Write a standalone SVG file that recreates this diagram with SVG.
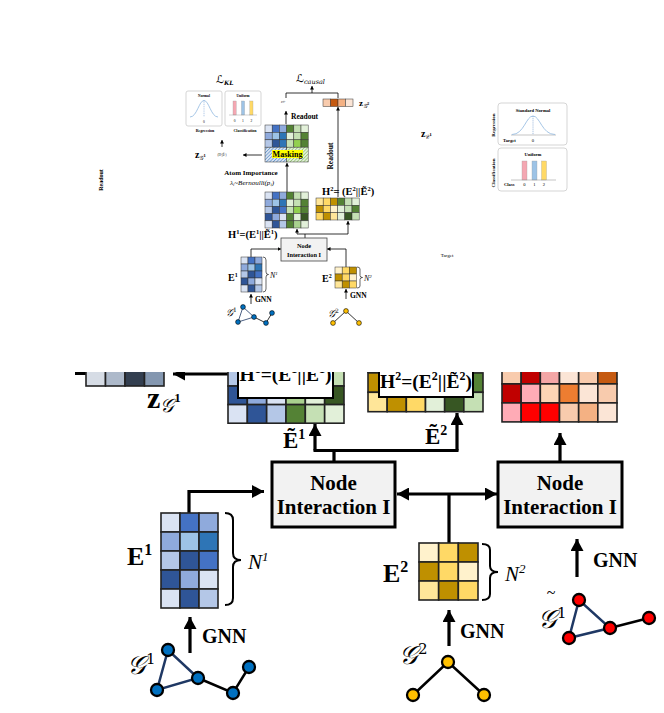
<svg xmlns="http://www.w3.org/2000/svg" width="664" height="713" viewBox="0 0 664 713">
<style>
text{font-family:"Liberation Serif","DejaVu Serif",serif;fill:#000}
.b{font-weight:bold}
.i{font-style:italic}
.sc{font-family:"DejaVu Serif","DejaVu Sans","Noto Sans",serif;font-style:italic}
.c{text-anchor:middle}
.sm rect{stroke:#333;stroke-width:0.5}
.bg rect{stroke:#222;stroke-width:1.6}
.sl{stroke:#000;stroke-width:0.8;fill:none}
.bl{stroke:#000;stroke-width:3.2;fill:none}
.nb{fill:#0070c0;stroke:#000}
.ny{fill:#ffc000;stroke:#000}
.nr{fill:#ff0000;stroke:#000}
.dist{fill:#fff;stroke:#d0d0d0;stroke-width:0.9}
</style>
<defs>
<marker id="sa" markerUnits="userSpaceOnUse" markerWidth="4" markerHeight="4" refX="3.5" refY="2" orient="auto"><path d="M0,0 L3.5,2 L0,4 z" fill="#000"/></marker>
<marker id="ba" markerUnits="userSpaceOnUse" markerWidth="13" markerHeight="13" refX="12" refY="6.5" orient="auto-start-reverse"><path d="M0,0 L12,6.5 L0,13 z" fill="#000"/></marker>
<pattern id="hb" width="2.4" height="2.4" patternUnits="userSpaceOnUse" patternTransform="rotate(45)"><rect width="2.4" height="2.4" fill="#dae3f3"/><line x1="0" y1="0" x2="0" y2="2.4" stroke="#2e75b6" stroke-width="1"/></pattern>
<pattern id="hg" width="2.4" height="2.4" patternUnits="userSpaceOnUse" patternTransform="rotate(45)"><rect width="2.4" height="2.4" fill="#e2f0d9"/><line x1="0" y1="0" x2="0" y2="2.4" stroke="#70ad47" stroke-width="1"/></pattern>
<clipPath id="cut"><rect x="0" y="372" width="664" height="341"/></clipPath>
</defs>
<rect width="664" height="713" fill="#fff"/>

<!-- ============ SMALL DIAGRAM ============ -->
<g id="small-connectors">
<path class="sl" d="M286,98 V93 H338 V98"/>
<path class="sl" d="M312,93 V86" marker-end="url(#sa)"/>
<path class="sl" d="M286,124 V111" marker-end="url(#sa)"/>
<path class="sl" d="M338,197 V107" marker-end="url(#sa)"/>
<path class="sl" d="M222,147 V140" marker-end="url(#sa)"/>
<path class="sl" d="M262,155 H243" marker-end="url(#sa)"/>
<path class="sl" d="M287,192 V163" marker-end="url(#sa)"/>
<path class="sl" d="M305,238 V234 M297,234 H348"/>
<path class="sl" d="M297,234 V229" marker-end="url(#sa)"/>
<path class="sl" d="M348,234 V221" marker-end="url(#sa)"/>
<path class="sl" d="M251,257 V249 H281" marker-end="url(#sa)"/>
<path class="sl" d="M346,267 V249 H327" marker-end="url(#sa)"/>
<path class="sl" d="M251,304 V294" marker-end="url(#sa)"/>
<path class="sl" d="M346,299 V289" marker-end="url(#sa)"/>
</g>

<g id="loss-kl"><text x="216" y="83" class="sc" font-size="11">ℒ<tspan font-size="6" dy="1.5" font-weight="bold">KL</tspan></text></g>
<g id="loss-causal"><text x="296" y="82" class="sc" font-size="11">ℒ<tspan font-size="6.5" dy="1.5">causal</tspan></text></g>

<g id="prior-small-normal">
<rect class="dist" x="186" y="91" width="36" height="35" rx="2"/>
<text x="204" y="97" class="b c" font-size="3.6">Normal</text>
<path d="M190,117 C197,117 199,100.5 204,100.5 C209,100.5 211,117 218,117" fill="none" stroke="#8fb8e0" stroke-width="0.8"/>
<line x1="204" y1="100.5" x2="204" y2="117" stroke="#5b8fd0" stroke-width="0.5" stroke-dasharray="1,0.8"/>
<text x="204" y="122.5" class="c" font-size="3.6">0</text>
<text x="205" y="132" class="b c" font-size="4">Regression</text>
</g>
<g id="prior-small-uniform">
<rect class="dist" x="225" y="91" width="36" height="35" rx="2"/>
<text x="243" y="97" class="b c" font-size="3.6">Uniform</text>
<rect x="233" y="101" width="3.2" height="14" fill="#f4a7b2" stroke="#999" stroke-width="0.3"/>
<rect x="241.4" y="101" width="3.2" height="14" fill="#9dc3e6" stroke="#999" stroke-width="0.3"/>
<rect x="249.8" y="101" width="3.2" height="14" fill="#ffd966" stroke="#999" stroke-width="0.3"/>
<line x1="229" y1="115" x2="257" y2="115" stroke="#888" stroke-width="0.4"/>
<text x="234.6" y="121.5" class="c" font-size="3.6">0</text>
<text x="243" y="121.5" class="c" font-size="3.6">1</text>
<text x="251.4" y="121.5" class="c" font-size="3.6">2</text>
<text x="245" y="132" class="b c" font-size="4">Classification</text>
</g>

<g id="zs1-small"><text x="195" y="158" class="b" font-size="10">z<tspan class="sc" font-size="6" dy="1.5" font-weight="normal">𝒢</tspan><tspan font-size="4.5" dy="-3">1</tspan></text>
<text x="222" y="156" class="c" font-size="3">(H¹||Ẽ¹)</text></g>

<g id="zg1-tiny"><text x="283" y="103" class="c i" font-size="3.2">z𝒢¹</text>
<text x="291" y="119" class="b" font-size="7.5">Readout</text></g>

<g id="zg2-small">
<g class="sm"><rect x="323" y="99" width="7.5" height="7.5" fill="#f8cbad"/><rect x="330.5" y="99" width="7.5" height="7.5" fill="#c55a11"/><rect x="338" y="99" width="7.5" height="7.5" fill="#f4b183"/><rect x="345.5" y="99" width="7.5" height="7.5" fill="#fbe5d6"/></g>
<text x="359" y="106" class="b" font-size="9">z<tspan class="sc" font-size="6" dy="1.5" font-weight="normal">𝒢</tspan><tspan font-size="4.5" dy="-3">2</tspan></text>
<text transform="translate(333,156) rotate(-90)" class="b c" font-size="7.5">Readout</text>
</g>

<g id="masked-matrix">
<g class="sm">
<rect x="265" y="125" width="7.2" height="7.4" fill="#dae3f3"/><rect x="272.2" y="125" width="7.2" height="7.4" fill="#4472c4"/><rect x="279.4" y="125" width="7.2" height="7.4" fill="#8faadc"/><rect x="286.6" y="125" width="7.2" height="7.4" fill="#548235"/><rect x="293.8" y="125" width="7.2" height="7.4" fill="#c5e0b4"/><rect x="301" y="125" width="7.2" height="7.4" fill="#e2f0d9"/>
<rect x="265" y="132.4" width="7.2" height="7.4" fill="#8faadc"/><rect x="272.2" y="132.4" width="7.2" height="7.4" fill="#9dc3e6"/><rect x="279.4" y="132.4" width="7.2" height="7.4" fill="#2e75b6"/><rect x="286.6" y="132.4" width="7.2" height="7.4" fill="#e2f0d9"/><rect x="293.8" y="132.4" width="7.2" height="7.4" fill="#c5e0b4"/><rect x="301" y="132.4" width="7.2" height="7.4" fill="#548235"/>
<rect x="265" y="139.8" width="7.2" height="7.4" fill="#b4c7e7"/><rect x="272.2" y="139.8" width="7.2" height="7.4" fill="#2f5597"/><rect x="279.4" y="139.8" width="7.2" height="7.4" fill="#2e75b6"/><rect x="286.6" y="139.8" width="7.2" height="7.4" fill="#c5e0b4"/><rect x="293.8" y="139.8" width="7.2" height="7.4" fill="#92d050"/><rect x="301" y="139.8" width="7.2" height="7.4" fill="#548235"/>
<rect x="265" y="147.2" width="21.6" height="14.8" fill="url(#hb)"/><rect x="286.6" y="147.2" width="21.6" height="14.8" fill="url(#hg)"/>
</g>
<rect x="272" y="150" width="31" height="8" fill="#ffff00"/>
<text x="287.5" y="157" class="b c" font-size="8">Masking</text>
</g>

<g id="atom-importance">
<text x="251" y="175" class="b c" font-size="7">Atom Importance</text>
<text x="252" y="184.5" class="i c" font-size="7">λ<tspan font-size="4.5" dy="1">i</tspan><tspan dy="-1">~Bernoulli(p</tspan><tspan font-size="4.5" dy="1">i</tspan><tspan dy="-1">)</tspan></text>
</g>

<g id="h1-small">
<g class="sm">
<rect x="265" y="192" width="7.2" height="7.2" fill="#dae3f3"/><rect x="272.2" y="192" width="7.2" height="7.2" fill="#4472c4"/><rect x="279.4" y="192" width="7.2" height="7.2" fill="#8faadc"/><rect x="286.6" y="192" width="7.2" height="7.2" fill="#548235"/><rect x="293.8" y="192" width="7.2" height="7.2" fill="#c5e0b4"/><rect x="301" y="192" width="7.2" height="7.2" fill="#e2f0d9"/>
<rect x="265" y="199.2" width="7.2" height="7.2" fill="#8faadc"/><rect x="272.2" y="199.2" width="7.2" height="7.2" fill="#9dc3e6"/><rect x="279.4" y="199.2" width="7.2" height="7.2" fill="#2e75b6"/><rect x="286.6" y="199.2" width="7.2" height="7.2" fill="#e2f0d9"/><rect x="293.8" y="199.2" width="7.2" height="7.2" fill="#c5e0b4"/><rect x="301" y="199.2" width="7.2" height="7.2" fill="#548235"/>
<rect x="265" y="206.4" width="7.2" height="7.2" fill="#b4c7e7"/><rect x="272.2" y="206.4" width="7.2" height="7.2" fill="#2f5597"/><rect x="279.4" y="206.4" width="7.2" height="7.2" fill="#4472c4"/><rect x="286.6" y="206.4" width="7.2" height="7.2" fill="#c5e0b4"/><rect x="293.8" y="206.4" width="7.2" height="7.2" fill="#92d050"/><rect x="301" y="206.4" width="7.2" height="7.2" fill="#548235"/>
<rect x="265" y="213.6" width="7.2" height="7.2" fill="#2f5597"/><rect x="272.2" y="213.6" width="7.2" height="7.2" fill="#8faadc"/><rect x="279.4" y="213.6" width="7.2" height="7.2" fill="#dae3f3"/><rect x="286.6" y="213.6" width="7.2" height="7.2" fill="#548235"/><rect x="293.8" y="213.6" width="7.2" height="7.2" fill="#e2f0d9"/><rect x="301" y="213.6" width="7.2" height="7.2" fill="#385723"/>
<rect x="265" y="220.8" width="7.2" height="7.2" fill="#dae3f3"/><rect x="272.2" y="220.8" width="7.2" height="7.2" fill="#2f5597"/><rect x="279.4" y="220.8" width="7.2" height="7.2" fill="#b4c7e7"/><rect x="286.6" y="220.8" width="7.2" height="7.2" fill="#548235"/><rect x="293.8" y="220.8" width="7.2" height="7.2" fill="#a9d18e"/><rect x="301" y="220.8" width="7.2" height="7.2" fill="#e2f0d9"/>
</g>
<text x="228" y="237.5" class="b" font-size="10.5">H<tspan font-size="6.5" dy="-4">1</tspan><tspan dy="4">=(E</tspan><tspan font-size="6.5" dy="-4">1</tspan><tspan dy="4">||Ẽ</tspan><tspan font-size="6.5" dy="-4">1</tspan><tspan dy="4">)</tspan></text>
</g>

<g id="h2-small">
<g class="sm">
<rect x="316" y="198" width="7.2" height="7.33" fill="#ffe699"/><rect x="323.2" y="198" width="7.2" height="7.33" fill="#ffd966"/><rect x="330.4" y="198" width="7.2" height="7.33" fill="#bf9000"/><rect x="337.6" y="198" width="7.2" height="7.33" fill="#548235"/><rect x="344.8" y="198" width="7.2" height="7.33" fill="#c5e0b4"/><rect x="352" y="198" width="7.2" height="7.33" fill="#e2f0d9"/>
<rect x="316" y="205.33" width="7.2" height="7.33" fill="#bf9000"/><rect x="323.2" y="205.33" width="7.2" height="7.33" fill="#ffd966"/><rect x="330.4" y="205.33" width="7.2" height="7.33" fill="#fff2cc"/><rect x="337.6" y="205.33" width="7.2" height="7.33" fill="#e2f0d9"/><rect x="344.8" y="205.33" width="7.2" height="7.33" fill="#c5e0b4"/><rect x="352" y="205.33" width="7.2" height="7.33" fill="#548235"/>
<rect x="316" y="212.66" width="7.2" height="7.33" fill="#ffd966"/><rect x="323.2" y="212.66" width="7.2" height="7.33" fill="#bf9000"/><rect x="330.4" y="212.66" width="7.2" height="7.33" fill="#ffe699"/><rect x="337.6" y="212.66" width="7.2" height="7.33" fill="#e2f0d9"/><rect x="344.8" y="212.66" width="7.2" height="7.33" fill="#375623"/><rect x="352" y="212.66" width="7.2" height="7.33" fill="#c5e0b4"/>
</g>
<text x="322" y="195" class="b" font-size="10.5">H<tspan font-size="6.5" dy="-4">2</tspan><tspan dy="4">= (E</tspan><tspan font-size="6.5" dy="-4">2</tspan><tspan dy="4">||Ẽ</tspan><tspan font-size="6.5" dy="-4">2</tspan><tspan dy="4">)</tspan></text>
</g>

<g id="node-interaction-small">
<rect x="281" y="238" width="46" height="23" fill="#f2f2f2" stroke="#444" stroke-width="0.8"/>
<text x="304" y="247.5" class="b c" font-size="6.3">Node</text>
<text x="304" y="256.5" class="b c" font-size="6.3">Interaction I</text>
</g>

<g id="e1-small">
<g class="sm">
<rect x="241" y="257" width="7" height="7" fill="#dae3f3"/><rect x="248" y="257" width="7" height="7" fill="#4472c4"/><rect x="255" y="257" width="7" height="7" fill="#8faadc"/>
<rect x="241" y="264" width="7" height="7" fill="#8faadc"/><rect x="248" y="264" width="7" height="7" fill="#9dc3e6"/><rect x="255" y="264" width="7" height="7" fill="#2e75b6"/>
<rect x="241" y="271" width="7" height="7" fill="#b4c7e7"/><rect x="248" y="271" width="7" height="7" fill="#2f5597"/><rect x="255" y="271" width="7" height="7" fill="#4472c4"/>
<rect x="241" y="278" width="7" height="7" fill="#2f5597"/><rect x="248" y="278" width="7" height="7" fill="#8faadc"/><rect x="255" y="278" width="7" height="7" fill="#dae3f3"/>
<rect x="241" y="285" width="7" height="7" fill="#dae3f3"/><rect x="248" y="285" width="7" height="7" fill="#2f5597"/><rect x="255" y="285" width="7" height="7" fill="#b4c7e7"/>
</g>
<path d="M263,257 Q266,257 266,260 V272 Q266,274.5 268.5,274.5 Q266,274.5 266,277 V289 Q266,292 263,292" fill="none" stroke="#000" stroke-width="0.6"/>
<text x="270" y="278" class="i" font-size="8">N<tspan font-size="5" dy="-3.5">1</tspan></text>
<text x="228" y="281" class="b" font-size="10">E<tspan font-size="6" dy="-4">1</tspan></text>
<text x="255" y="302" class="b" font-size="7.5">GNN</text>
</g>

<g id="e2-small">
<g class="sm">
<rect x="335" y="267" width="7.2" height="7" fill="#fff2cc"/><rect x="342.2" y="267" width="7.2" height="7" fill="#ffd966"/><rect x="349.4" y="267" width="7.2" height="7" fill="#bf9000"/>
<rect x="335" y="274" width="7.2" height="7" fill="#bf9000"/><rect x="342.2" y="274" width="7.2" height="7" fill="#ffd966"/><rect x="349.4" y="274" width="7.2" height="7" fill="#fff2cc"/>
<rect x="335" y="281" width="7.2" height="7" fill="#ffe699"/><rect x="342.2" y="281" width="7.2" height="7" fill="#bf9000"/><rect x="349.4" y="281" width="7.2" height="7" fill="#ffd966"/>
</g>
<path d="M357,267 Q360,267 360,269 V275.5 Q360,277.5 362.5,277.5 Q360,277.5 360,279.5 V286 Q360,288 357,288" fill="none" stroke="#000" stroke-width="0.6"/>
<text x="364" y="281" class="i" font-size="8">N<tspan font-size="5" dy="-3.5">2</tspan></text>
<text x="322" y="282" class="b" font-size="10">E<tspan font-size="6" dy="-4">2</tspan></text>
<text x="350" y="298" class="b" font-size="7.5">GNN</text>
</g>

<g id="g1-small">
<path d="M243,307 L238,322 L254,317 Z" fill="none" stroke="#1f3864" stroke-width="0.8"/>
<path d="M254,317 L266,323 L272,313" fill="none" stroke="#000" stroke-width="0.8"/>
<g stroke-width="0.6"><circle class="nb" cx="243" cy="307" r="2.4"/><circle class="nb" cx="238" cy="322" r="2.4"/><circle class="nb" cx="254" cy="317" r="2.4"/><circle class="nb" cx="266" cy="323" r="2.4"/><circle class="nb" cx="272" cy="313" r="2.4"/></g>
<text x="226" y="316" class="sc" font-size="10">𝒢<tspan font-size="6" dy="-4" font-style="normal">1</tspan></text>
</g>
<g id="g2-small">
<path d="M333,323 L346,311 L359,323" fill="none" stroke="#000" stroke-width="0.8"/>
<g stroke-width="0.6"><circle class="ny" cx="346" cy="311" r="2.4"/><circle class="ny" cx="333" cy="323" r="2.4"/><circle class="ny" cx="359" cy="323" r="2.4"/></g>
<text x="328" y="317" class="sc" font-size="10">𝒢<tspan font-size="6" dy="-4" font-style="normal">2</tspan></text>
</g>

<g id="readout-left"><text transform="translate(103,180) rotate(-90)" class="b c" font-size="6">Readout</text></g>

<g id="zc1"><text x="421" y="137" class="b" font-size="10">z<tspan class="sc" font-size="6" dy="1.5" font-weight="normal">𝒞</tspan><tspan font-size="4.5" dy="-3">1</tspan></text></g>

<g id="prior-right-normal">
<rect class="dist" x="498" y="103" width="69" height="42" rx="3"/>
<text x="533" y="111.5" class="b c" font-size="4.6">Standard Normal</text>
<line x1="511" y1="135" x2="556" y2="135" stroke="#888" stroke-width="0.5"/>
<path d="M512,134.5 C524,134.5 526,116 533,116 C540,116 542,134.5 555,134.5" fill="none" stroke="#8fb8e0" stroke-width="0.8"/>
<line x1="533" y1="116" x2="533" y2="135" stroke="#4a7fc0" stroke-width="0.5" stroke-dasharray="1.2,0.9"/>
<text x="503" y="142" class="b" font-size="4.6">Target</text>
<text x="533" y="142" class="c" font-size="4.6">0</text>
<text transform="translate(495,125) rotate(-90)" class="b c" font-size="5">Regression</text>
</g>
<g id="prior-right-uniform">
<rect class="dist" x="498" y="148" width="69" height="43" rx="3"/>
<text x="533" y="156" class="b c" font-size="4.6">Uniform</text>
<rect x="522" y="161" width="5" height="19" fill="#f4a7b2" stroke="#999" stroke-width="0.3"/>
<rect x="532" y="161" width="5" height="19" fill="#9dc3e6" stroke="#999" stroke-width="0.3"/>
<rect x="541.5" y="161" width="5" height="19" fill="#ffd966" stroke="#999" stroke-width="0.3"/>
<line x1="511" y1="180" x2="556" y2="180" stroke="#888" stroke-width="0.5"/>
<text x="504" y="186" class="b" font-size="4.6">Class</text>
<text x="524.5" y="186" class="c" font-size="4.6">0</text>
<text x="534.5" y="186" class="c" font-size="4.6">1</text>
<text x="544" y="186" class="c" font-size="4.6">2</text>
<text transform="translate(495,173) rotate(-90)" class="b c" font-size="5">Classification</text>
</g>
<g id="target-label"><text x="447" y="257" class="c" font-size="5">Target</text></g>

<!-- ============ LARGE DIAGRAM ============ -->
<g clip-path="url(#cut)">
<g id="connectors">
<rect x="75" y="372" width="11" height="3" fill="#000"/>
<path class="bl" d="M228,374 H173" marker-end="url(#ba)"/>
<path class="bl" d="M334,462 V450.5 M313.5,450.5 H458.5"/>
<path class="bl" d="M315,450.5 V424" marker-end="url(#ba)"/>
<path class="bl" d="M457,450.5 V413" marker-end="url(#ba)"/>
<path class="bl" d="M189,513 V491.5 H264" marker-end="url(#ba)"/>
<path class="bl" d="M397,494 H497" marker-start="url(#ba)" marker-end="url(#ba)"/>
<path class="bl" d="M449,494 V543"/>
<path class="bl" d="M560,462 V433" marker-end="url(#ba)"/>
<path class="bl" d="M190,653 V617" marker-end="url(#ba)"/>
<path class="bl" d="M449,646 V610" marker-end="url(#ba)"/>
<path class="bl" d="M577,577 V539" marker-end="url(#ba)"/>
</g>

<g id="zg1-vector">
<g class="bg"><rect x="86" y="360" width="19.5" height="26" fill="#d6dce5"/><rect x="105.5" y="360" width="19.5" height="26" fill="#adb9ca"/><rect x="125" y="360" width="19.5" height="26" fill="#333f50"/><rect x="144.5" y="360" width="19.5" height="26" fill="#8497b0"/></g>
<text x="147" y="408" class="b" font-size="30">z<tspan class="sc" font-size="19" dy="4" font-weight="normal">𝒢</tspan><tspan font-size="13" dy="-10">1</tspan></text>
</g>

<g id="h1-large">
<g class="bg">
<rect x="228" y="367.4" width="19.33" height="18.6" fill="#b4c7e7"/><rect x="247.33" y="367.4" width="19.33" height="18.6" fill="#2f5597"/><rect x="266.67" y="367.4" width="19.33" height="18.6" fill="#4472c4"/><rect x="286" y="367.4" width="19.33" height="18.6" fill="#c5e0b4"/><rect x="305.33" y="367.4" width="19.33" height="18.6" fill="#92d050"/><rect x="324.67" y="367.4" width="19.33" height="18.6" fill="#c5e0b4"/>
<rect x="228" y="386" width="19.33" height="18.6" fill="#2f5597"/><rect x="247.33" y="386" width="19.33" height="18.6" fill="#8faadc"/><rect x="266.67" y="386" width="19.33" height="18.6" fill="#dae3f3"/><rect x="286" y="386" width="19.33" height="18.6" fill="#a9d18e"/><rect x="305.33" y="386" width="19.33" height="18.6" fill="#e2f0d9"/><rect x="324.67" y="386" width="19.33" height="18.6" fill="#385723"/>
<rect x="228" y="404.6" width="19.33" height="18.6" fill="#dae3f3"/><rect x="247.33" y="404.6" width="19.33" height="18.6" fill="#2f5597"/><rect x="266.67" y="404.6" width="19.33" height="18.6" fill="#b4c7e7"/><rect x="286" y="404.6" width="19.33" height="18.6" fill="#548235"/><rect x="305.33" y="404.6" width="19.33" height="18.6" fill="#c5e0b4"/><rect x="324.67" y="404.6" width="19.33" height="18.6" fill="#e2f0d9"/>
</g>
<rect x="238" y="350" width="95" height="48" fill="#fff" stroke="#000" stroke-width="2"/>
<text x="285.5" y="381" class="b c" font-size="19.5">H<tspan font-size="12" dy="-8">1</tspan><tspan dy="8">=(E</tspan><tspan font-size="12" dy="-8">1</tspan><tspan dy="8">||Ẽ</tspan><tspan font-size="12" dy="-8">1</tspan><tspan dy="8">)</tspan></text>
<text x="283" y="448" class="b" font-size="23">Ẽ<tspan font-size="14" dy="-9">1</tspan></text>
</g>

<g id="h2-large">
<g class="bg">
<rect x="368" y="353" width="19.17" height="19.4" fill="#bf9000"/>
<rect x="368" y="372.9" width="19.17" height="19.4" fill="#bf9000"/><rect x="387.17" y="372.9" width="19.17" height="19.4" fill="#ffd966"/><rect x="406.33" y="372.9" width="19.17" height="19.4" fill="#fff2cc"/><rect x="425.5" y="372.9" width="19.17" height="19.4" fill="#e2f0d9"/><rect x="444.67" y="372.9" width="19.17" height="19.4" fill="#c5e0b4"/><rect x="463.83" y="372.9" width="19.17" height="19.4" fill="#548235"/>
<rect x="368" y="392.3" width="19.17" height="19.4" fill="#ffe699"/><rect x="387.17" y="392.3" width="19.17" height="19.4" fill="#bf9000"/><rect x="406.33" y="392.3" width="19.17" height="19.4" fill="#ffd966"/><rect x="425.5" y="392.3" width="19.17" height="19.4" fill="#e2f0d9"/><rect x="444.67" y="392.3" width="19.17" height="19.4" fill="#375623"/><rect x="463.83" y="392.3" width="19.17" height="19.4" fill="#c5e0b4"/>
</g>
<rect x="379" y="350" width="94" height="47" fill="#fff" stroke="#000" stroke-width="2"/>
<text x="426" y="388" class="b c" font-size="19.5">H<tspan font-size="12" dy="-8">2</tspan><tspan dy="8">=(E</tspan><tspan font-size="12" dy="-8">2</tspan><tspan dy="8">||Ẽ</tspan><tspan font-size="12" dy="-8">2</tspan><tspan dy="8">)</tspan></text>
<text x="425" y="444" class="b" font-size="23">Ẽ<tspan font-size="14" dy="-9">2</tspan></text>
</g>

<g id="red-matrix">
<g class="bg">
<rect x="502" y="364.6" width="19.17" height="19.3" fill="#f8cbad"/><rect x="521.17" y="364.6" width="19.17" height="19.3" fill="#c00000"/><rect x="540.33" y="364.6" width="19.17" height="19.3" fill="#f4a6a6"/><rect x="559.5" y="364.6" width="19.17" height="19.3" fill="#fbe5d6"/><rect x="578.67" y="364.6" width="19.17" height="19.3" fill="#f8cbad"/><rect x="597.83" y="364.6" width="19.17" height="19.3" fill="#c55a11"/>
<rect x="502" y="383.9" width="19.17" height="19" fill="#c00000"/><rect x="521.17" y="383.9" width="19.17" height="19" fill="#ffabb6"/><rect x="540.33" y="383.9" width="19.17" height="19" fill="#fcd5b5"/><rect x="559.5" y="383.9" width="19.17" height="19" fill="#ed7d31"/><rect x="578.67" y="383.9" width="19.17" height="19" fill="#fbe5d6"/><rect x="597.83" y="383.9" width="19.17" height="19" fill="#f8cbad"/>
<rect x="502" y="402.9" width="19.17" height="19" fill="#ffabb6"/><rect x="521.17" y="402.9" width="19.17" height="19" fill="#ff0000"/><rect x="540.33" y="402.9" width="19.17" height="19" fill="#ff0000"/><rect x="559.5" y="402.9" width="19.17" height="19" fill="#f8cbad"/><rect x="578.67" y="402.9" width="19.17" height="19" fill="#f4b183"/><rect x="597.83" y="402.9" width="19.17" height="19" fill="#fbe5d6"/>
</g>
</g>

<g id="node-interaction-1">
<rect x="272" y="462" width="123" height="65" fill="#f2f2f2" stroke="#000" stroke-width="3"/>
<text x="333.5" y="490" class="b c" font-size="21">Node</text>
<text x="333.5" y="514" class="b c" font-size="21">Interaction I</text>
</g>
<g id="node-interaction-2">
<rect x="498" y="462" width="124" height="65" fill="#f2f2f2" stroke="#000" stroke-width="3"/>
<text x="560" y="490" class="b c" font-size="21">Node</text>
<text x="560" y="514" class="b c" font-size="21">Interaction I</text>
</g>

<g id="e1-large">
<g class="bg">
<rect x="161" y="513" width="19" height="19" fill="#dae3f3"/><rect x="180" y="513" width="19" height="19" fill="#4472c4"/><rect x="199" y="513" width="19" height="19" fill="#8faadc"/>
<rect x="161" y="532" width="19" height="19" fill="#8faadc"/><rect x="180" y="532" width="19" height="19" fill="#9dc3e6"/><rect x="199" y="532" width="19" height="19" fill="#2e75b6"/>
<rect x="161" y="551" width="19" height="19" fill="#b4c7e7"/><rect x="180" y="551" width="19" height="19" fill="#2f5597"/><rect x="199" y="551" width="19" height="19" fill="#4472c4"/>
<rect x="161" y="570" width="19" height="19" fill="#2f5597"/><rect x="180" y="570" width="19" height="19" fill="#8faadc"/><rect x="199" y="570" width="19" height="19" fill="#dae3f3"/>
<rect x="161" y="589" width="19" height="19" fill="#dae3f3"/><rect x="180" y="589" width="19" height="19" fill="#2f5597"/><rect x="199" y="589" width="19" height="19" fill="#b4c7e7"/>
</g>
<path d="M225,513 Q233,513 233,520 V553 Q233,560 241,560 Q233,560 233,567 V598 Q233,605 225,605" fill="none" stroke="#000" stroke-width="2"/>
<text x="248" y="569" class="i" font-size="21">N<tspan font-size="13" dy="-8">1</tspan></text>
<text x="127" y="565" class="b" font-size="26">E<tspan font-size="16" dy="-10">1</tspan></text>
<text x="202" y="643" class="b" font-size="20">GNN</text>
</g>

<g id="e2-large">
<g class="bg">
<rect x="419" y="543" width="19.67" height="19" fill="#fff2cc"/><rect x="438.67" y="543" width="19.67" height="19" fill="#ffd966"/><rect x="458.33" y="543" width="19.67" height="19" fill="#bf9000"/>
<rect x="419" y="562" width="19.67" height="19" fill="#bf9000"/><rect x="438.67" y="562" width="19.67" height="19" fill="#ffd966"/><rect x="458.33" y="562" width="19.67" height="19" fill="#fff2cc"/>
<rect x="419" y="581" width="19.67" height="19" fill="#ffe699"/><rect x="438.67" y="581" width="19.67" height="19" fill="#bf9000"/><rect x="458.33" y="581" width="19.67" height="19" fill="#ffd966"/>
</g>
<path d="M482,544 Q490,544 490,550 V566 Q490,572 498,572 Q490,572 490,578 V594 Q490,600 482,600" fill="none" stroke="#000" stroke-width="2"/>
<text x="505" y="581" class="i" font-size="21">N<tspan font-size="13" dy="-8">2</tspan></text>
<text x="383" y="582" class="b" font-size="26">E<tspan font-size="16" dy="-10">2</tspan></text>
<text x="460" y="638" class="b" font-size="20">GNN</text>
</g>

<g id="g1-large">
<path d="M168,650 L157,690 L198,678 Z" fill="none" stroke="#1f3864" stroke-width="2.5"/>
<path d="M198,678 L233,693 L249,667" fill="none" stroke="#000" stroke-width="2.5"/>
<g stroke-width="2.3"><circle class="nb" cx="168" cy="650" r="6"/><circle class="nb" cx="157" cy="690" r="6"/><circle class="nb" cx="198" cy="678" r="6"/><circle class="nb" cx="233" cy="693" r="6"/><circle class="nb" cx="249" cy="667" r="6"/></g>
<text x="127" y="674" class="sc" font-size="26">𝒢<tspan font-size="15" dy="-10" font-style="normal">1</tspan></text>
</g>

<g id="g2-large">
<path d="M413,695 L448,662 L484,695" fill="none" stroke="#000" stroke-width="2.5"/>
<g stroke-width="2.3"><circle class="ny" cx="448" cy="662" r="6"/><circle class="ny" cx="413" cy="695" r="6"/><circle class="ny" cx="484" cy="695" r="6"/></g>
<text x="399" y="664" class="sc" font-size="26">𝒢<tspan font-size="15" dy="-10" font-style="normal">2</tspan></text>
</g>

<g id="g1-tilde-large">
<path d="M579,600 L569,638 L610,628 Z" fill="none" stroke="#1f3864" stroke-width="2.5"/>
<path d="M610,628 L649,618" fill="none" stroke="#000" stroke-width="2.5"/>
<g stroke-width="2.3"><circle class="nr" cx="579" cy="600" r="6"/><circle class="nr" cx="569" cy="638" r="6"/><circle class="nr" cx="610" cy="628" r="6"/><circle class="nr" cx="649" cy="618" r="6"/></g>
<text x="538" y="628" class="sc" font-size="26">𝒢<tspan font-size="15" dy="-10" font-style="normal">1</tspan></text>
<text x="551" y="598" class="c" font-size="16">~</text>
</g>
<g id="gnn-right"><text x="593" y="567" class="b" font-size="20">GNN</text></g>
</g>
</svg>
